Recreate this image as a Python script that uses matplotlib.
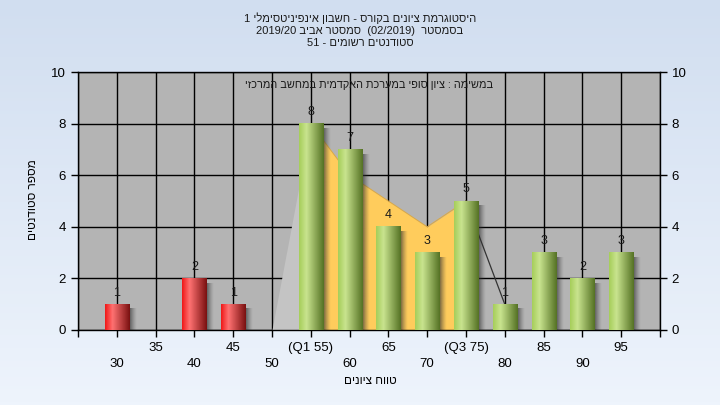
import re

import numpy as np
import matplotlib
matplotlib.use("Agg")
import matplotlib.pyplot as plt
from matplotlib.colors import to_rgb

plt.rcParams["font.family"] = ["Liberation Sans", "DejaVu Sans"]

# logical (reading order) texts, turned into visual order for drawing
TITLE_LINES = [
    "היסטוגרמת ציונים בקורס - חשבון אינפיניטסימלי 1",
    "בסמסטר  (02/2019)  סמסטר אביב 2019/20",
    "סטודנטים רשומים - 51",
]
SUBTITLE = "במשימה : ציון סופי במערכת האקדמית במחשב המרכזי"
X_LABEL = "טווח ציונים"
Y_LABEL = "מספר סטודנטים"

GRADES = [30, 35, 40, 45, 50, 55, 60, 65, 70, 75, 80, 85, 90, 95]
TICK_LABELS = ["30", "35", "40", "45", "50", "(Q1 55)", "60", "65", "70",
               "(Q3 75)", "80", "85", "90", "95"]
COUNTS = [1, 0, 2, 1, 0, 8, 7, 4, 3, 5, 1, 3, 2, 3]
CURVE = [0, 0, 0, 0, 0, 8, 6, 5, 4, 5, 1, 0, 0, 0]
PASS_GRADE = 55
Q1_IDX = 5
Q3_IDX = 9

GREEN = [(0.0, "#A6CE5A"), (0.3, "#C9E48F"), (1.0, "#557224")]
RED = [(0.0, "#F01818"), (0.3, "#FF7272"), (1.0, "#7A1010")]


def rtl(text):
    vis = text[::-1]
    vis = re.sub(r"[0-9A-Za-z/.]+", lambda m: m.group(0)[::-1], vis)
    return vis.translate(str.maketrans("()", ")("))


def gradient_bar(ax, x, h, w, stops, z):
    t = np.linspace(0, 1, 64)
    pos = [p for p, _ in stops]
    rgb = [to_rgb(c) for _, c in stops]
    cols = np.stack([np.interp(t, pos, [c[i] for c in rgb]) for i in range(3)], axis=1)
    ax.imshow(cols[None, :, :], extent=(x - w / 2, x + w / 2, 0, h),
              aspect="auto", interpolation="bilinear", zorder=z)


def shadow(ax, x, h, w, z):
    t = np.linspace(0, 1, 32)
    cols = np.zeros((1, 32, 4))
    cols[0, :, :3] = 0.2
    cols[0, :, 3] = 0.75 * (1 - t) ** 1.3
    ax.imshow(cols, extent=(x + w / 2, x + w / 2 + 0.2, 0, h - 0.18),
              aspect="auto", interpolation="bilinear", zorder=z)


fig = plt.figure(figsize=(7.2, 4.05), dpi=100)

bg = fig.add_axes([0, 0, 1, 1], zorder=-10)
top, bottom = np.array(to_rgb("#D1DEF0")), np.array(to_rgb("#EEF4FC"))
grad = top + np.linspace(0, 1, 128)[:, None, None] * (bottom - top)
bg.imshow(grad, aspect="auto", extent=(0, 1, 0, 1))
bg.set_axis_off()

ax = fig.add_axes([0.1083, 0.1852, 0.8083, 0.637])
ax.set_facecolor("#B4B4B4")
ax.set_axisbelow(True)
ax.grid(True, color="black", lw=1.0)

xs = np.arange(len(GRADES))
curve = np.array(CURVE, dtype=float)
ax.fill_between(xs[Q1_IDX - 1:Q1_IDX + 1], curve[Q1_IDX - 1:Q1_IDX + 1],
                color="#C4C4C4", lw=0, zorder=1)
ax.fill_between(xs[Q1_IDX:Q3_IDX + 1], curve[Q1_IDX:Q3_IDX + 1],
                color="#FFCC5C", lw=0, zorder=1)
ax.plot(xs[Q1_IDX:Q3_IDX + 1], curve[Q1_IDX:Q3_IDX + 1], color="#D8A848", lw=0.7, zorder=1.2)
ax.plot(xs[Q3_IDX:Q3_IDX + 2], curve[Q3_IDX:Q3_IDX + 2], color="#333333", lw=0.9, zorder=1.2)

bar_w = 0.62
for x, grade, n in zip(xs, GRADES, COUNTS):
    if n == 0:
        continue
    shadow(ax, x, n, bar_w, 2)
    gradient_bar(ax, x, n, bar_w, GREEN if grade >= PASS_GRADE else RED, 3)
    ax.text(x, n + 0.45, str(n), ha="center", va="center", fontsize=9, color="#1A1A1A", zorder=4)

ax.set_xlim(-1, 14)
ax.set_ylim(0, 10)
ax.set_xticks(np.arange(-1, 15))
labels = [""] + [lab if i % 2 else "\n" + lab for i, lab in enumerate(TICK_LABELS)] + [""]
ax.set_xticklabels(labels, fontsize=9, linespacing=1.35)
ax.set_yticks(range(0, 11, 2))
ax.tick_params(axis="both", direction="out", length=5, width=1, colors="black", labelsize=9.5)
ax.tick_params(axis="x", pad=4)
for sp in ax.spines.values():
    sp.set_color("black")
    sp.set_linewidth(1)

ax2 = ax.twinx()
ax2.set_ylim(0, 10)
ax2.set_yticks(range(0, 11, 2))
ax2.tick_params(axis="y", direction="out", length=5, width=1, labelsize=9.5)
for sp in ax2.spines.values():
    sp.set_visible(False)

ax.text(0.5, 0.948, rtl(SUBTITLE), transform=ax.transAxes, ha="center", va="center",
        fontsize=7.8, color="#1A1A1A", zorder=5)

for i, line in enumerate(TITLE_LINES):
    fig.text(0.5, 1 - (18 + 12.5 * i) / 405, rtl(line), ha="center", va="center",
             fontsize=8.0, color="#1A1A1A")

fig.text(370 / 720, 1 - 381 / 405, rtl(X_LABEL), ha="center", va="center", fontsize=8.5)
fig.text(33 / 720, 1 - 200 / 405, rtl(Y_LABEL), ha="center", va="center",
         rotation=90, fontsize=8.5)

fig.savefig("out.png", dpi=100)
